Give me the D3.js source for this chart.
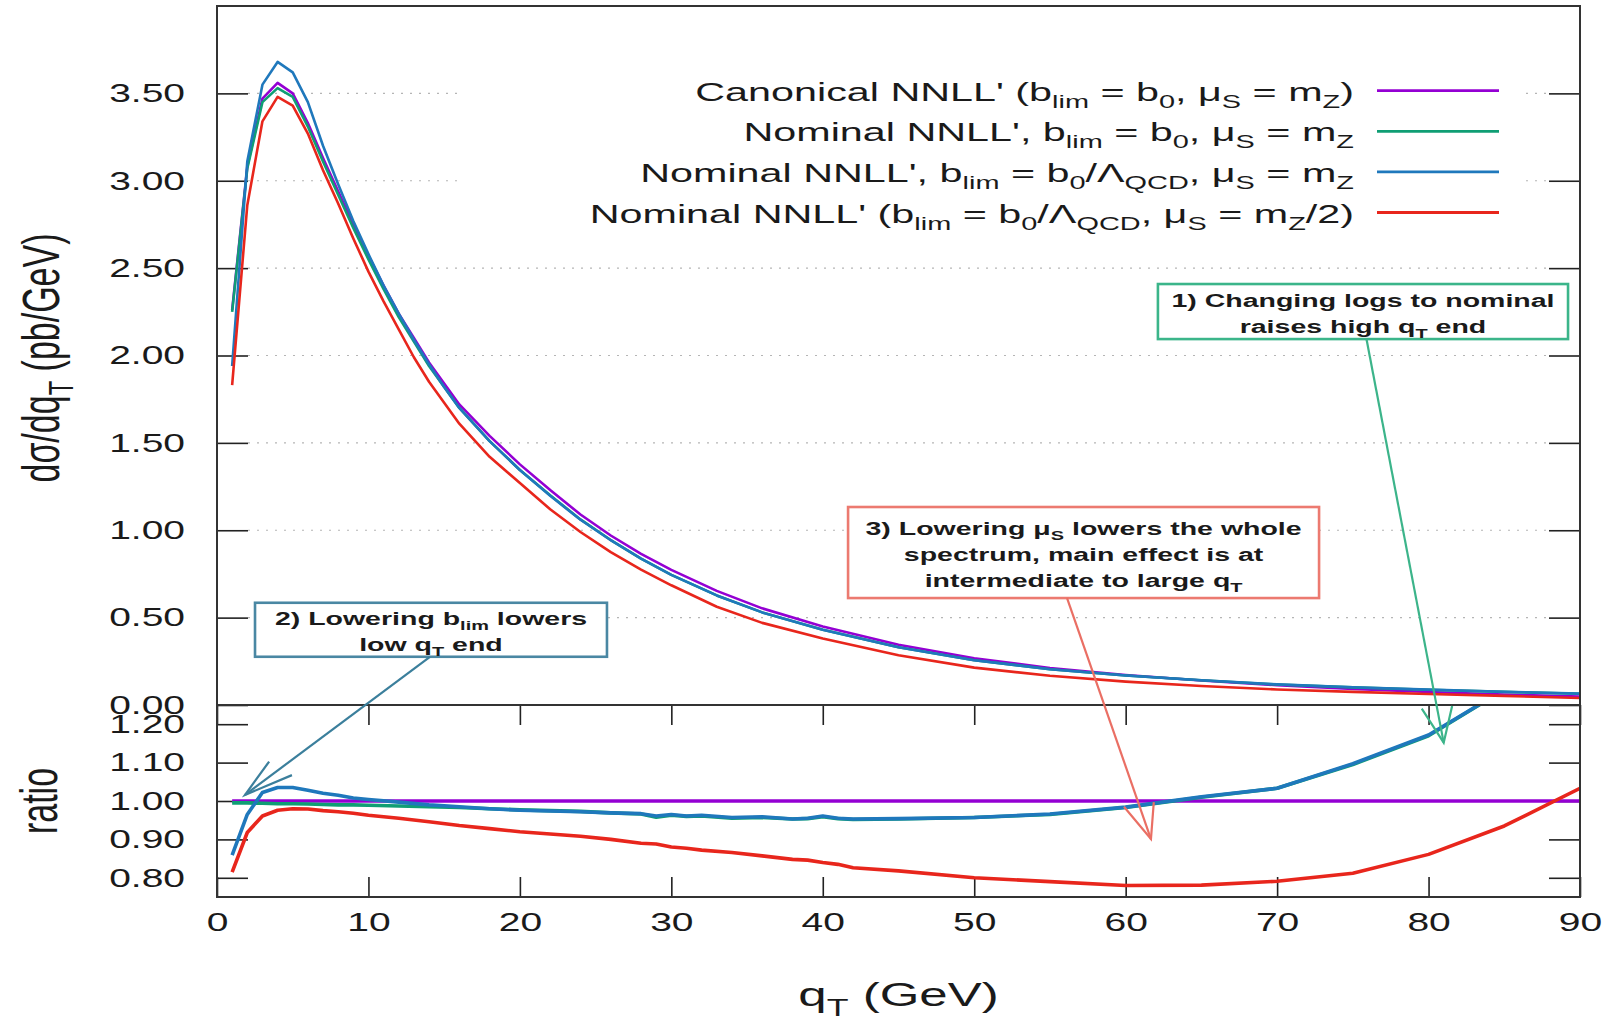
<!DOCTYPE html>
<html>
<head>
<meta charset="utf-8">
<script src="https://cdn.jsdelivr.net/npm/d3@7"></script>
<style>
  body { margin: 0; background: #fff; }
  svg text { font-family: "Liberation Sans", Arial, Helvetica, sans-serif; fill: #1a1a1a; }
</style>
</head>
<body>
<svg id="chart"></svg>
<script>
// q_T grid of the upper panel (GeV)
var qtMain = [1, 2, 3, 4, 5, 6, 7, 8, 9, 10, 11, 12, 13, 14, 15, 16, 18, 20, 22, 24, 26, 28, 30, 33, 36, 40, 45, 50, 55, 60, 65, 70, 75, 80, 85, 90];

// dσ/dq_T (pb/GeV)
var canonicalMain = [2.26, 3.08, 3.47, 3.56, 3.50, 3.33, 3.13, 2.94, 2.75, 2.57, 2.40, 2.24, 2.10, 1.96, 1.84, 1.72, 1.54, 1.377, 1.23, 1.09, 0.97, 0.865, 0.773, 0.653, 0.553, 0.449, 0.345, 0.267, 0.212, 0.172, 0.140, 0.113, 0.092, 0.074, 0.060, 0.048];
var nominalMain = [2.25, 3.07, 3.45, 3.53, 3.48, 3.31, 3.11, 2.92, 2.73, 2.55, 2.38, 2.22, 2.08, 1.94, 1.82, 1.70, 1.51, 1.345, 1.20, 1.062, 0.944, 0.838, 0.745, 0.627, 0.530, 0.431, 0.330, 0.256, 0.205, 0.169, 0.142, 0.117, 0.101, 0.087, 0.075, 0.064];
var nominalLambdaMain = [1.94, 3.11, 3.55, 3.68, 3.62, 3.45, 3.20, 2.98, 2.77, 2.58, 2.40, 2.24, 2.09, 1.95, 1.82, 1.70, 1.51, 1.345, 1.197, 1.06, 0.943, 0.838, 0.745, 0.627, 0.530, 0.431, 0.330, 0.256, 0.205, 0.169, 0.142, 0.118, 0.102, 0.088, 0.076, 0.065];
var nominalHalfMain = [1.83, 2.86, 3.34, 3.48, 3.43, 3.27, 3.06, 2.87, 2.67, 2.48, 2.31, 2.15, 1.99, 1.85, 1.73, 1.61, 1.42, 1.27, 1.12, 0.99, 0.875, 0.775, 0.685, 0.562, 0.470, 0.380, 0.285, 0.214, 0.167, 0.134, 0.109, 0.089, 0.075, 0.063, 0.052, 0.040];

// q_T grid of the ratio panel (GeV)
var qtRatio = [1, 2, 3, 4, 5, 6, 7, 8, 9, 10, 12, 14, 16, 18, 20, 22, 24, 26, 28, 29, 30, 31, 32, 34, 36, 38, 39, 40, 41, 42, 45, 50, 55, 60, 65, 70, 75, 80, 85, 90];

// ratio to the canonical curve
var canonicalRatio = [1, 1, 1, 1, 1, 1, 1, 1, 1, 1, 1, 1, 1, 1, 1, 1, 1, 1, 1, 1, 1, 1, 1, 1, 1, 1, 1, 1, 1, 1, 1, 1, 1, 1, 1, 1, 1, 1, 1, 1];
var nominalRatio = [0.995, 0.995, 0.994, 0.993, 0.993, 0.992, 0.991, 0.990, 0.990, 0.989, 0.987, 0.985, 0.983, 0.980, 0.977, 0.975, 0.973, 0.969, 0.966, 0.958, 0.963, 0.960, 0.961, 0.955, 0.957, 0.953, 0.954, 0.959, 0.954, 0.952, 0.953, 0.957, 0.965, 0.983, 1.010, 1.033, 1.095, 1.170, 1.290, 1.450];
var nominalLambdaRatio = [0.859, 0.965, 1.022, 1.035, 1.035, 1.028, 1.020, 1.015, 1.008, 1.004, 0.997, 0.990, 0.985, 0.980, 0.976, 0.974, 0.972, 0.969, 0.967, 0.961, 0.965, 0.961, 0.963, 0.957, 0.959, 0.953, 0.955, 0.961, 0.955, 0.953, 0.954, 0.957, 0.966, 0.984, 1.011, 1.033, 1.097, 1.172, 1.290, 1.450];
var nominalHalfRatio = [0.815, 0.918, 0.961, 0.976, 0.980, 0.979, 0.975, 0.972, 0.968, 0.963, 0.955, 0.946, 0.936, 0.928, 0.920, 0.914, 0.908, 0.900, 0.890, 0.888, 0.880, 0.877, 0.872, 0.866, 0.857, 0.848, 0.846, 0.840, 0.835, 0.826, 0.818, 0.800, 0.790, 0.780, 0.781, 0.791, 0.812, 0.861, 0.935, 1.033];

// Tick values
var xTicks = [0, 10, 20, 30, 40, 50, 60, 70, 80, 90];
var yTicksMain = [0, 0.5, 1.0, 1.5, 2.0, 2.5, 3.0, 3.5];
var yTicksRatio = [0.8, 0.9, 1.0, 1.1, 1.2];

// Legend labels: [text, isSubscript]
var seriesLabels = [
  [["Canonical NNLL' (b", 0], ["lim", 1], [" = b", 0], ["0", 1], [", μ", 0], ["S", 1], [" = m", 0], ["Z", 1], [")", 0]],
  [["Nominal NNLL', b", 0], ["lim", 1], [" = b", 0], ["0", 1], [", μ", 0], ["S", 1], [" = m", 0], ["Z", 1]],
  [["Nominal NNLL', b", 0], ["lim", 1], [" = b", 0], ["0", 1], ["/Λ", 0], ["QCD", 1], [", μ", 0], ["S", 1], [" = m", 0], ["Z", 1]],
  [["Nominal NNLL' (b", 0], ["lim", 1], [" = b", 0], ["0", 1], ["/Λ", 0], ["QCD", 1], [", μ", 0], ["S", 1], [" = m", 0], ["Z", 1], ["/2)", 0]]
];
var seriesColors = ["#9400d3", "#0f9e74", "#1f78bc", "#e8261c"];

// Annotations (anchors in data units: box in upper panel, arrow tip in ratio panel)
var notes = [
  { lines: [[["1) Changing logs to nominal", 0]], [["raises high q", 0], ["T", 1], [" end", 0]]],
    color: "#3bb58a", arrowColor: "#3cb48a", box: [62.13, 89.21, 2.409, 2.094], first: 22.7,
    from: [75.9, 2.094], to: [81.0, 1.152] },
  { lines: [[["2) Lowering b", 0], ["lim", 1], [" lowers", 0]], [["low q", 0], ["T", 1], [" end", 0]]],
    color: "#4a87a3", arrowColor: "#3b7f9c", box: [2.51, 25.75, 0.585, 0.276], first: 22.3,
    from: [14.06, 0.276], to: [1.85, 1.016] },
  { lines: [[["3) Lowering μ", 0], ["S", 1], [" lowers the whole", 0]], [["spectrum, main effect is at", 0]], [["intermediate to large q", 0], ["T", 1]]],
    color: "#ec7a70", arrowColor: "#ea6f64", box: [41.67, 72.77, 1.133, 0.612], first: 28,
    from: [56.13, 0.612], to: [61.67, 0.901] }
];

var width = 1611;
var height = 1017;
var SX = 1.5;        // the picture is stretched sideways: all text is widened by this
var SX_LEGEND = 1.62; // legend text is a little wider still

var plotL = 217, plotR = 1580, plotT = 6, plotM = 705, plotB = 897;

var svg = d3.select("#chart").attr("width", width).attr("height", height);

var x = d3.scaleLinear().domain([0, 90]).range([plotL, plotR]);
var yMain = d3.scaleLinear().domain([0, 4]).range([plotM, plotT]);
var yRatio = d3.scaleLinear().domain([0.75, 1.25]).range([plotB, plotM]);

function widen(sel) {
  sel.each(function() {
    var t = d3.select(this);
    var tx = +t.attr("x") || 0;
    t.attr("x", tx / SX).attr("transform", "scale(" + SX + ",1)");
  });
}

function richText(sel, parts, size) {
  var subSize = size * 0.7;
  var shift = size * 0.28;
  parts.forEach(function(p, i) {
    var ts = sel.append("tspan").text(p[0]);
    if (p[1]) {
      ts.attr("font-size", subSize).attr("dy", shift);
    } else {
      ts.attr("font-size", size);
      if (i > 0 && parts[i - 1][1]) ts.attr("dy", -shift);
    }
  });
}

// clip for the curves
var defs = svg.append("defs");
defs.append("clipPath").attr("id", "clipMain").append("rect")
  .attr("x", plotL).attr("y", plotT).attr("width", plotR - plotL).attr("height", plotM - plotT);
defs.append("clipPath").attr("id", "clipRatio").append("rect")
  .attr("x", plotL).attr("y", plotM).attr("width", plotR - plotL).attr("height", plotB - plotM);

// grid (upper panel only)
svg.append("g").selectAll("line")
  .data(yTicksMain.filter(function(d) { return d > 0; }))
  .enter().append("line")
  .attr("x1", plotL + 31).attr("x2", plotR - 31)
  .attr("y1", function(d) { return yMain(d); }).attr("y2", function(d) { return yMain(d); })
  .attr("stroke", "#b5b5b5").attr("stroke-width", 1.2).attr("stroke-dasharray", "2,7");

// legend background hides the grid behind it
svg.append("rect").attr("x", 462).attr("y", 58).attr("width", 1058).attr("height", 172).attr("fill", "#fff");

// axes
function styleAxis(g) {
  g.select(".domain").remove();
  g.selectAll(".tick line").attr("stroke", "#222").attr("stroke-width", 1.6);
  g.selectAll(".tick text").attr("font-size", 26).attr("fill", "#1a1a1a")
    .style("font-family", "'Liberation Sans', Arial, sans-serif");
}

var fmt = d3.format(".2f");

svg.append("g").attr("transform", "translate(" + plotL + ",0)")
  .call(d3.axisLeft(yMain).tickValues(yTicksMain).tickFormat(fmt).tickSizeInner(-31).tickSizeOuter(0).tickPadding(32))
  .call(styleAxis).call(function(g) { widen(g.selectAll(".tick text")); });
svg.append("g").attr("transform", "translate(" + plotR + ",0)")
  .call(d3.axisRight(yMain).tickValues(yTicksMain).tickFormat("").tickSizeInner(-31).tickSizeOuter(0))
  .call(styleAxis);

svg.append("g").attr("transform", "translate(" + plotL + ",0)")
  .call(d3.axisLeft(yRatio).tickValues(yTicksRatio).tickFormat(fmt).tickSizeInner(-31).tickSizeOuter(0).tickPadding(32))
  .call(styleAxis).call(function(g) { widen(g.selectAll(".tick text")); });
svg.append("g").attr("transform", "translate(" + plotR + ",0)")
  .call(d3.axisRight(yRatio).tickValues(yTicksRatio).tickFormat("").tickSizeInner(-31).tickSizeOuter(0))
  .call(styleAxis);

svg.append("g").attr("transform", "translate(0," + plotB + ")")
  .call(d3.axisBottom(x).tickValues(xTicks).tickFormat(d3.format("d")).tickSizeInner(-20).tickSizeOuter(0).tickPadding(16))
  .call(styleAxis).call(function(g) { widen(g.selectAll(".tick text")); });
svg.append("g").attr("transform", "translate(0," + plotM + ")")
  .call(d3.axisTop(x).tickValues(xTicks).tickFormat("").tickSizeInner(-20).tickSizeOuter(0))
  .call(styleAxis);

// curves
var mainSeries = [canonicalMain, nominalMain, nominalLambdaMain, nominalHalfMain];
var ratioSeries = [canonicalRatio, nominalRatio, nominalLambdaRatio, nominalHalfRatio];

var lineMain = d3.line().x(function(d) { return x(d[0]); }).y(function(d) { return yMain(d[1]); });
var lineRatio = d3.line().x(function(d) { return x(d[0]); }).y(function(d) { return yRatio(d[1]); });

svg.append("g").attr("clip-path", "url(#clipMain)").selectAll("path")
  .data(mainSeries).enter().append("path")
  .attr("d", function(s) { return lineMain(d3.zip(qtMain, s)); })
  .attr("fill", "none").attr("stroke", function(s, i) { return seriesColors[i]; })
  .attr("stroke-width", 2.6).attr("stroke-linejoin", "round");

svg.append("g").attr("clip-path", "url(#clipRatio)").selectAll("path")
  .data(ratioSeries).enter().append("path")
  .attr("d", function(s) { return lineRatio(d3.zip(qtRatio, s)); })
  .attr("fill", "none").attr("stroke", function(s, i) { return seriesColors[i]; })
  .attr("stroke-width", 3.6).attr("stroke-linejoin", "round");

// frames
svg.append("rect").attr("x", plotL).attr("y", plotT).attr("width", plotR - plotL).attr("height", plotM - plotT)
  .attr("fill", "none").attr("stroke", "#333").attr("stroke-width", 2);
svg.append("rect").attr("x", plotL).attr("y", plotM).attr("width", plotR - plotL).attr("height", plotB - plotM)
  .attr("fill", "none").attr("stroke", "#333").attr("stroke-width", 2);

// legend
var legend = svg.append("g");
seriesLabels.forEach(function(parts, i) {
  var ly = 90.7 + i * 40.6;
  var t = legend.append("text").attr("text-anchor", "end")
    .attr("transform", "translate(1354," + (ly + 10) + ") scale(" + SX_LEGEND + ",1)");
  richText(t, parts, 25.5);
  legend.append("line").attr("x1", 1377).attr("x2", 1499).attr("y1", ly).attr("y2", ly)
    .attr("stroke", seriesColors[i]).attr("stroke-width", 2.8);
});

// axis titles
var xt = svg.append("text").attr("text-anchor", "middle")
  .attr("transform", "translate(" + ((plotL + plotR) / 2) + ",1006) scale(" + SX + ",1)");
richText(xt, [["q", 0], ["T", 1], [" (GeV)", 0]], 34);

var yt = svg.append("text").attr("text-anchor", "middle")
  .attr("transform", "translate(59," + 358 + ") scale(" + SX + ",1) rotate(-90)");
richText(yt, [["dσ/dq", 0], ["T", 1], [" (pb/GeV)", 0]], 34);

svg.append("text").attr("text-anchor", "middle")
  .attr("transform", "translate(57," + yRatio(1.0) + ") scale(" + SX + ",1) rotate(-90)")
  .attr("font-size", 34).text("ratio");

// annotations
function arrow(g, p0, p1, color, len) {
  var theta = 16 * Math.PI / 180;
  var dx = (p0[0] - p1[0]) / SX, dy = p0[1] - p1[1];
  var ang = Math.atan2(dy, dx);
  var a1 = [p1[0] + SX * len * Math.cos(ang + theta), p1[1] + len * Math.sin(ang + theta)];
  var a2 = [p1[0] + SX * len * Math.cos(ang - theta), p1[1] + len * Math.sin(ang - theta)];
  g.append("line").attr("x1", p0[0]).attr("y1", p0[1]).attr("x2", p1[0]).attr("y2", p1[1])
    .attr("stroke", color).attr("stroke-width", 2.2);
  g.append("path").attr("d", "M" + a1 + "L" + p1 + "L" + a2)
    .attr("fill", "none").attr("stroke", color).attr("stroke-width", 2.2);
}

var ann = svg.append("g");
notes.forEach(function(n) {
  var bx0 = x(n.box[0]), bx1 = x(n.box[1]), by0 = yMain(n.box[2]), by1 = yMain(n.box[3]);
  ann.append("rect").attr("x", bx0).attr("y", by0).attr("width", bx1 - bx0).attr("height", by1 - by0)
    .attr("fill", "#fff").attr("stroke", n.color).attr("stroke-width", 2.6);
  n.lines.forEach(function(parts, j) {
    var t = ann.append("text").attr("text-anchor", "middle").attr("font-weight", "bold")
      .attr("transform", "translate(" + ((bx0 + bx1) / 2) + "," + (by0 + n.first + j * 25.8) + ") scale(" + SX + ",1)");
    richText(t, parts, 19);
  });
});
notes.forEach(function(n) {
  arrow(ann, [x(n.from[0]), yMain(n.from[1])], [x(n.to[0]), yRatio(n.to[1])], n.arrowColor, 37);
});
</script>
</body>
</html>
